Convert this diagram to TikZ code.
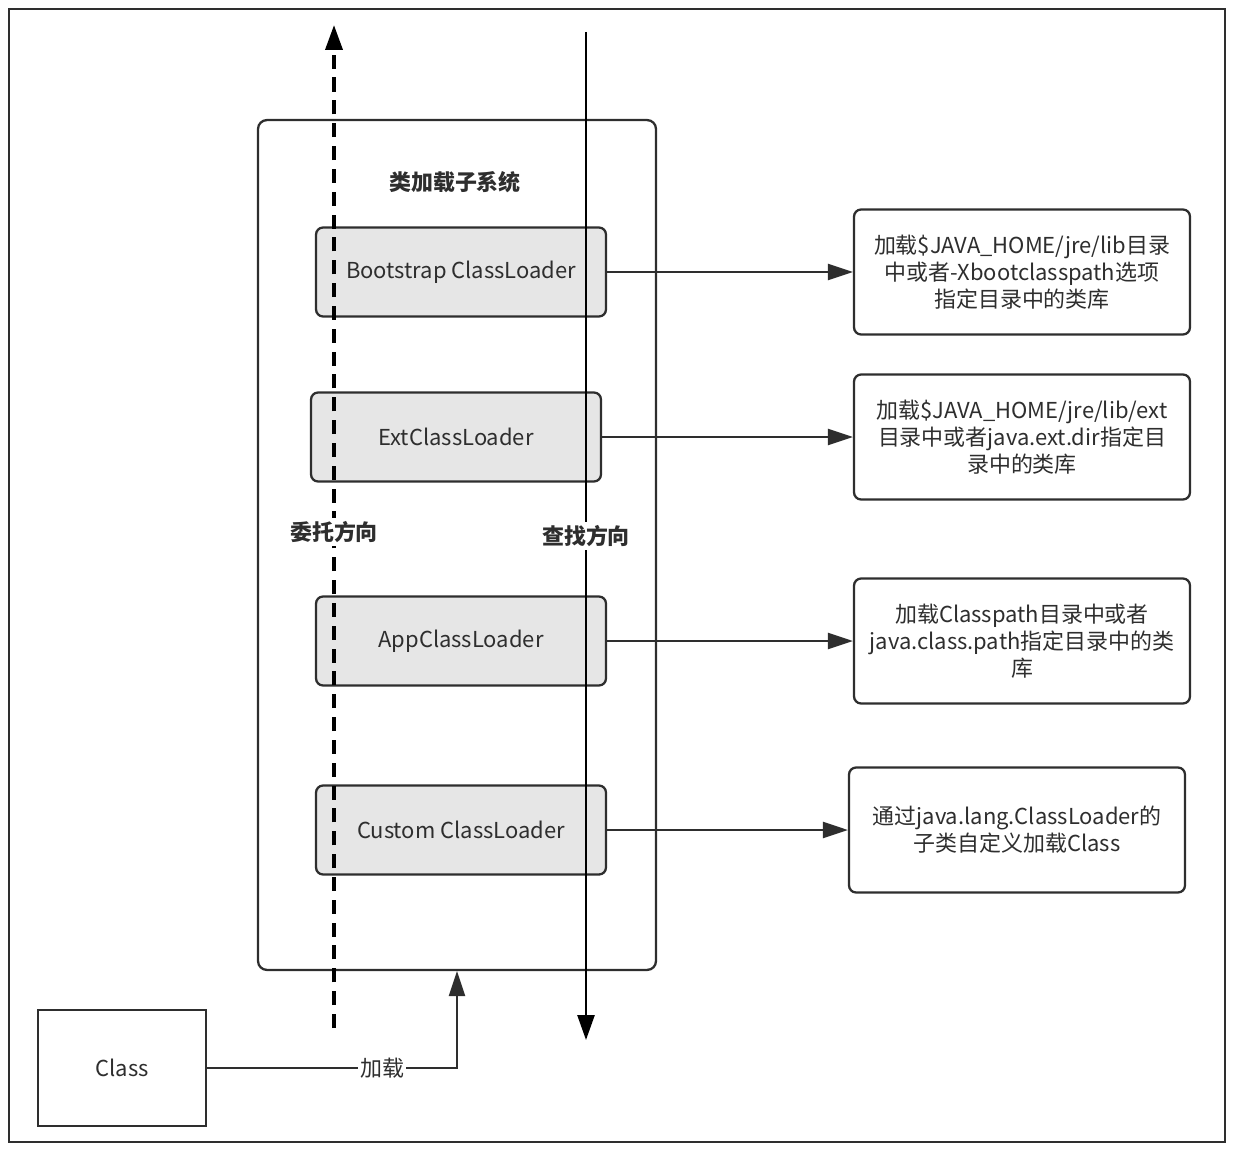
\documentclass[tikz,border=0pt]{standalone}
\usepackage{fontspec}
\setmainfont{Noto Sans CJK SC}
\usepackage{tikz}
\usetikzlibrary{arrows.meta,positioning}
\definecolor{linegray}{HTML}{2E2E2E}
\definecolor{boxgray}{HTML}{E6E6E6}

\begin{document}
\begin{tikzpicture}[x=0.02cm, y=-0.02cm, color=linegray,
font=\fontsize{12.5}{15.5}\selectfont, line width=1.3pt]

\tikzset{
	loader_box/.style = {
		draw, rounded corners=4pt, fill=boxgray,
		minimum width=5.8cm, minimum height=1.78cm
	},
	info_box/.style = {
		draw, rounded corners=4pt, fill=white, align=center,
		minimum width=6.72cm, minimum height=2.5cm
	},
	dir_label/.style = {
		fill=white, font=\fontsize{12.5}{15.5}\selectfont\bfseries,
		inner sep=2pt
	},
	load_arrow/.style = {
		-{Triangle[length=0.5cm, width=0.32cm]}
	}
}

\useasboundingbox (0,0) rectangle (1234,1152);
\draw[line width=1.5pt] (9,9) rectangle (1225,1142); % marco

% subsistema
\node[draw, rounded corners=5pt, minimum width=7.96cm, minimum height=17cm] (SYS) at (457,545) {};
\node[font=\fontsize{12.5}{15.5}\selectfont\bfseries] (TIT) at (455,182) {类加载子系统};

\node[loader_box] (BS) at (461,272) {Bootstrap ClassLoader};
\node[loader_box] (EXT) at (456,437) {ExtClassLoader};
\node[loader_box] (APP) at (461,641) {AppClassLoader};
\node[loader_box] (CUS) at (461,830) {Custom ClassLoader};

% direcciones
\coordinate (DB) at (334,1028);
\coordinate (DT) at (334,25);
\coordinate (FT) at (586,32);
\coordinate (FB) at (586,1040);
\draw[black, dash pattern=on 8pt off 5pt, line width=2.1pt,
	-{Triangle[length=0.5cm, width=0.34cm]}] (DB) -- (DT);
\draw[black, line width=1.5pt, -{Triangle[length=0.5cm, width=0.34cm]}] (FT) -- (FB);
\node[dir_label] (DEL) at (334,532) {委托方向};
\node[dir_label] (FIN) at (586,536) {查找方向};

% rutas
\node[info_box] (R1) at (1022,272) {加载\$JAVA\_HOME/jre/lib目录\\中或者-Xbootclasspath选项\\指定目录中的类库};
\node[info_box] (R2) at (1022,437) {加载\$JAVA\_HOME/jre/lib/ext\\目录中或者java.ext.dir指定目\\录中的类库};
\node[info_box] (R3) at (1022,641) {加载Classpath目录中或者\\java.class.path指定目录中的类\\库};
\node[info_box] (R4) at (1017,830) {通过java.lang.ClassLoader的\\子类自定义加载Class};

\draw[load_arrow] (BS) -- (R1);
\draw[load_arrow] (EXT) -- (R2);
\draw[load_arrow] (APP) -- (R3);
\draw[load_arrow] (CUS) -- (R4);

% clase
\node[draw, minimum width=3.36cm, minimum height=2.32cm] (CL) at (122,1068) {Class};
\draw[load_arrow] (CL) -| node[pos=0.35, fill=white, inner sep=1pt] (LD) {加载} (SYS.south);
\end{tikzpicture}
\end{document}
